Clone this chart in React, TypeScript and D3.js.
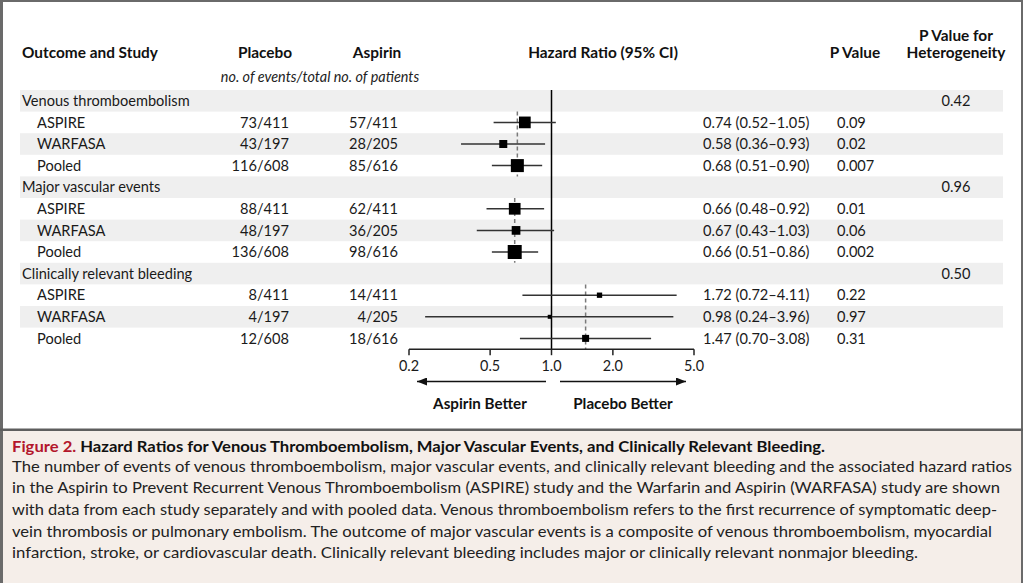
import React, { useEffect } from 'react';
import * as d3 from 'd3';

// ---------- data ----------
const groups = ['Venous thromboembolism', 'Major vascular events', 'Clinically relevant bleeding'];
const studies = ['ASPIRE', 'WARFASA', 'Pooled'];
const placeboEvents = ['73/411', '43/197', '116/608', '88/411', '48/197', '136/608', '8/411', '4/197', '12/608'];
const aspirinEvents = ['57/411', '28/205', '85/616', '62/411', '36/205', '98/616', '14/411', '4/205', '18/616'];
const hr = [0.74, 0.58, 0.68, 0.66, 0.67, 0.66, 1.72, 0.98, 1.47];
const ciLow = [0.52, 0.36, 0.51, 0.48, 0.43, 0.51, 0.72, 0.24, 0.70];
const ciHigh = [1.05, 0.93, 0.90, 0.92, 1.03, 0.86, 4.11, 3.96, 3.08];
const hrLabels = ['0.74 (0.52\u20131.05)', '0.58 (0.36\u20130.93)', '0.68 (0.51\u20130.90)', '0.66 (0.48\u20130.92)', '0.67 (0.43\u20131.03)', '0.66 (0.51\u20130.86)', '1.72 (0.72\u20134.11)', '0.98 (0.24\u20133.96)', '1.47 (0.70\u20133.08)'];
const pValues = ['0.09', '0.02', '0.007', '0.01', '0.06', '0.002', '0.22', '0.97', '0.31'];
const heterogeneity = ['0.42', '0.96', '0.50'];
const studyWeights = [11.7, 8, 13, 11.7, 8.7, 14, 5.3, 4, 7];
const axisTicks = [0.2, 0.5, 1.0, 2.0, 5.0];

const captionTitle = 'Hazard Ratios for Venous Thromboembolism, Major Vascular Events, and Clinically Relevant Bleeding.';
const captionLines = [
  'The number of events of venous thromboembolism, major vascular events, and clinically relevant bleeding and the associated hazard ratios',
  'in the Aspirin to Prevent Recurrent Venous Thromboembolism (ASPIRE) study and the Warfarin and Aspirin (WARFASA) study are shown',
  'with data from each study separately and with pooled data. Venous thromboembolism refers to the first recurrence of symptomatic deep-',
  'vein thrombosis or pulmonary embolism. The outcome of major vascular events is a composite of venous thromboembolism, myocardial',
  'infarction, stroke, or cardiovascular death. Clinically relevant bleeding includes major or clinically relevant nonmajor bleeding.',
];
const captionWidths = [1000, 988, 985, 980, 906];

// ---------- layout ----------
const W = 1023, H = 583;
const FONT = "Lato, 'Open Sans', sans-serif";
const rowTop = 90, rowH = 21.6, nRows = 12;

export default function App() {
  useEffect(() => { document.body.style.margin = '0'; }, []);

  const x = d3.scaleLog().domain([0.2, 5]).range([409, 694]);
  const rowY = d3.scaleLinear().domain([0, nRows]).range([rowTop, rowTop + rowH * nRows]);
  const size = d3.scaleLinear().domain([0, 14]).range([0, 14]);
  const axisY = rowY(nRows);

  type Row = { kind: 'group' | 'study'; label: string; g: number; s: number; i: number };
  const rows: Row[] = [];
  groups.forEach((gl, g) => {
    rows.push({ kind: 'group', label: gl, g, s: -1, i: -1 });
    studies.forEach((sl, s) => rows.push({ kind: 'study', label: sl, g, s, i: g * 3 + s }));
  });

  const pooledIdx = groups.map((_, g) => g * 3 + 2);

  return (
    <div style={{ position: 'absolute', left: 0, top: 0 }}>
      <svg width={W} height={H} style={{ display: 'block', fontFamily: FONT }}>
        <rect x={0} y={0} width={W} height={H} fill="#fff" />
        {/* caption background */}
        <rect x={0} y={430} width={W} height={H - 430} fill="#f5eee9" />
        {/* borders */}
        <rect x={0} y={0} width={3} height={H} fill="#6a6a6a" />
        <rect x={0} y={0} width={W} height={2} fill="#6a6a6a" />
        <rect x={W - 2} y={0} width={2} height={H} fill="#6a6a6a" />
        <rect x={0} y={428.5} width={W} height={2.5} fill="#5e5e5e" />

        {/* row bands */}
        {rows.map((r, k) => k % 2 === 0 ? (
          <rect key={'b' + k} x={20} y={rowY(k)} width={983} height={rowH} fill="#efefef" />
        ) : null)}

        {/* headers */}
        <g fontWeight="bold" fontSize={15.4} fill="#111">
          <text x={22} y={58}>Outcome and Study</text>
          <text x={265} y={58} textAnchor="middle">Placebo</text>
          <text x={377} y={58} textAnchor="middle">Aspirin</text>
          <text x={603} y={58} textAnchor="middle">Hazard Ratio (95% CI)</text>
          <text x={855} y={58} textAnchor="middle">P Value</text>
          <text x={956} y={41} textAnchor="middle">P Value for</text>
          <text x={956} y={58} textAnchor="middle">Heterogeneity</text>
        </g>
        <text x={320} y={82} textAnchor="middle" fontStyle="italic" fontSize={14.4} fill="#222">no. of events/total no. of patients</text>

        {/* row texts */}
        <g fontSize={14.6} fill="#1a1a1a">
          {rows.map((r, k) => {
            const cy = rowY(k + 0.5);
            if (r.kind === 'group') {
              return (
                <g key={'t' + k}>
                  <text x={22} y={cy} dy="0.36em">{r.label}</text>
                  <text x={956} y={cy} dy="0.36em" textAnchor="middle">{heterogeneity[r.g]}</text>
                </g>
              );
            }
            return (
              <g key={'t' + k}>
                <text x={37} y={cy} dy="0.36em">{r.label}</text>
                <text x={289} y={cy} dy="0.36em" textAnchor="end">{placeboEvents[r.i]}</text>
                <text x={398} y={cy} dy="0.36em" textAnchor="end">{aspirinEvents[r.i]}</text>
                <text x={703} y={cy} dy="0.36em">{hrLabels[r.i]}</text>
                <text x={837} y={cy} dy="0.36em">{pValues[r.i]}</text>
              </g>
            );
          })}
        </g>

        {/* reference line at 1 */}
        <line x1={x(1)} x2={x(1)} y1={rowTop} y2={axisY} stroke="#000" strokeWidth={1.5} />

        {/* pooled dashed lines */}
        {pooledIdx.map((pi, g) => (
          <line key={'d' + g} x1={x(hr[pi])} x2={x(hr[pi])} y1={rowY(g * 4 + 1)} y2={rowY(g * 4 + 4)}
            stroke="#7a7a7a" strokeWidth={1.5} strokeDasharray="4,3" />
        ))}

        {/* CIs and squares */}
        {rows.filter(r => r.kind === 'study').map(r => {
          const k = rows.indexOf(r);
          const cy = rowY(k + 0.5);
          const s = size(studyWeights[r.i]);
          return (
            <g key={'f' + r.i}>
              <line x1={x(ciLow[r.i])} x2={x(ciHigh[r.i])} y1={cy} y2={cy} stroke="#333" strokeWidth={1.5} />
              <rect x={x(hr[r.i]) - s / 2} y={cy - s / 2} width={s} height={s} fill="#000" />
            </g>
          );
        })}

        {/* axis */}
        <line x1={x(0.2)} x2={x(5)} y1={axisY} y2={axisY} stroke="#222" strokeWidth={1.5} />
        {axisTicks.map(t => (
          <g key={'tk' + t}>
            <line x1={x(t)} x2={x(t)} y1={axisY} y2={axisY + 6} stroke="#222" strokeWidth={1.5} />
            <text x={x(t)} y={371} textAnchor="middle" fontSize={14.4} fill="#1a1a1a">{t.toFixed(1)}</text>
          </g>
        ))}

        {/* arrows */}
        <defs>
          <marker id="ah" viewBox="0 0 10 8" refX={10} refY={4} markerWidth={10} markerHeight={8} markerUnits="userSpaceOnUse" orient="auto">
            <path d="M0,0 L10,4 L0,8 Z" fill="#111" />
          </marker>
        </defs>
        <line x1={546} x2={417} y1={381.5} y2={381.5} stroke="#111" strokeWidth={1.5} markerEnd="url(#ah)" />
        <line x1={560} x2={686} y1={381.5} y2={381.5} stroke="#111" strokeWidth={1.5} markerEnd="url(#ah)" />
        <text x={480} y={409} textAnchor="middle" fontWeight="bold" fontSize={15.2} fill="#111">Aspirin Better</text>
        <text x={623} y={409} textAnchor="middle" fontWeight="bold" fontSize={15.2} fill="#111">Placebo Better</text>

        {/* caption */}
        <text x={12} y={452} fontSize={16} fontWeight="bold" textLength={813} lengthAdjust="spacingAndGlyphs">
          <tspan fill="#b3162c">Figure 2. </tspan>
          <tspan fill="#111">{captionTitle}</tspan>
        </text>
        {captionLines.map((l, i) => (
          <text key={'c' + i} x={12} y={471.5 + i * 21.7} fontSize={15.8} fill="#222"
            textLength={captionWidths[i]} lengthAdjust="spacingAndGlyphs">{l}</text>
        ))}
      </svg>
    </div>
  );
}
